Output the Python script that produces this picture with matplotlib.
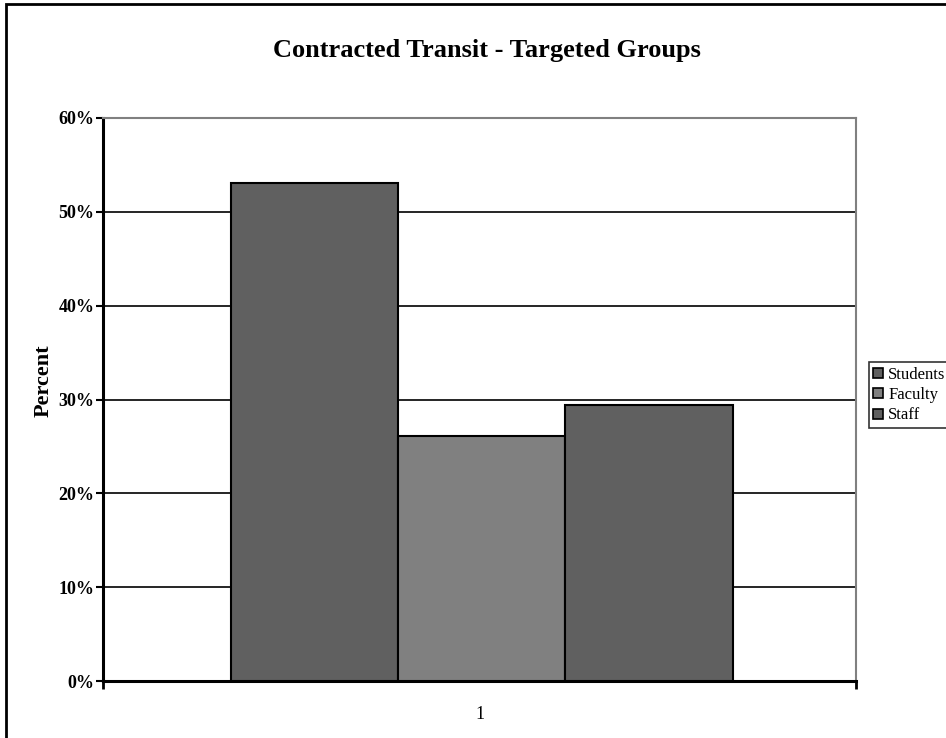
import matplotlib.pyplot as plt
from matplotlib.lines import Line2D
from matplotlib.patches import Rectangle
from matplotlib.ticker import FuncFormatter

plt.rcParams['font.family'] = ['Liberation Serif', 'DejaVu Serif']

groups = ['Students', 'Faculty', 'Staff']
percent = [53.1, 26.1, 29.4]
colors = ['#606060', '#808080', '#606060']
category = ['1']

fig = plt.figure(figsize=(9.46, 7.38), dpi=100)
ax = fig.add_axes([103 / 946, 57 / 738, 753 / 946, 563 / 738])

# three bars in a single category, gap width 150%
w = 1 / 4.5
for i, (g, v, c) in enumerate(zip(groups, percent, colors)):
    ax.bar((i - 1) * w + 0.003, v, width=w, color=c, edgecolor='black',
           linewidth=1.5, label=g, zorder=3)

ax.set_xlim(-0.5, 0.5)
ax.set_ylim(0, 60)
ax.set_yticks(range(0, 61, 10))
ax.yaxis.set_major_formatter(FuncFormatter(lambda v, p: f'{v:.0f}%'))
for lab in ax.get_yticklabels():
    lab.set_fontweight('bold')
    lab.set_fontsize(13)
ax.tick_params(axis='y', direction='out', length=5, width=1.5, pad=1)

ax.set_xticks([0])
ax.set_xticklabels(category, fontsize=13)
ax.tick_params(axis='x', which='major', length=0, pad=18)
ax.set_xticks([-0.5, 0.5], minor=True)
ax.tick_params(axis='x', which='minor', direction='out', length=6, width=2)

ax.grid(axis='y', color='black', linewidth=1.2, zorder=0)
ax.set_axisbelow(True)

ax.spines['left'].set_linewidth(2.2)
ax.spines['bottom'].set_linewidth(2.2)
ax.spines['top'].set_color('#808080')
ax.spines['right'].set_color('#808080')
ax.spines['top'].set_linewidth(1.5)
ax.spines['right'].set_linewidth(1.5)

ax.set_ylabel('Percent', fontsize=16, fontweight='bold')
ax.yaxis.set_label_coords(-0.066, 0.533)
fig.text(487 / 946, 1 - 50 / 738, 'Contracted Transit - Targeted Groups',
         ha='center', va='center', fontsize=19, fontweight='bold')

handles = [Line2D([], [], marker='s', linestyle='', markersize=6.5,
                  markerfacecolor=c, markeredgecolor='black', markeredgewidth=1.2)
           for c in colors]
leg = fig.legend(handles, groups, loc='upper left',
                 bbox_to_anchor=(869 / 946, 1 - 362 / 738), fontsize=12,
                 frameon=True, fancybox=False, edgecolor='black',
                 handlelength=0.5, handletextpad=0.35, borderpad=0.3,
                 labelspacing=0.25, borderaxespad=0)
leg.get_frame().set_linewidth(1.2)

# outer chart frame
fig.patches.append(Rectangle((6 / 946, -0.1), 1.2, 1.1 - 4 / 738,
                             transform=fig.transFigure, fill=False,
                             edgecolor='black', linewidth=2))

fig.savefig('out.png', dpi=100)
